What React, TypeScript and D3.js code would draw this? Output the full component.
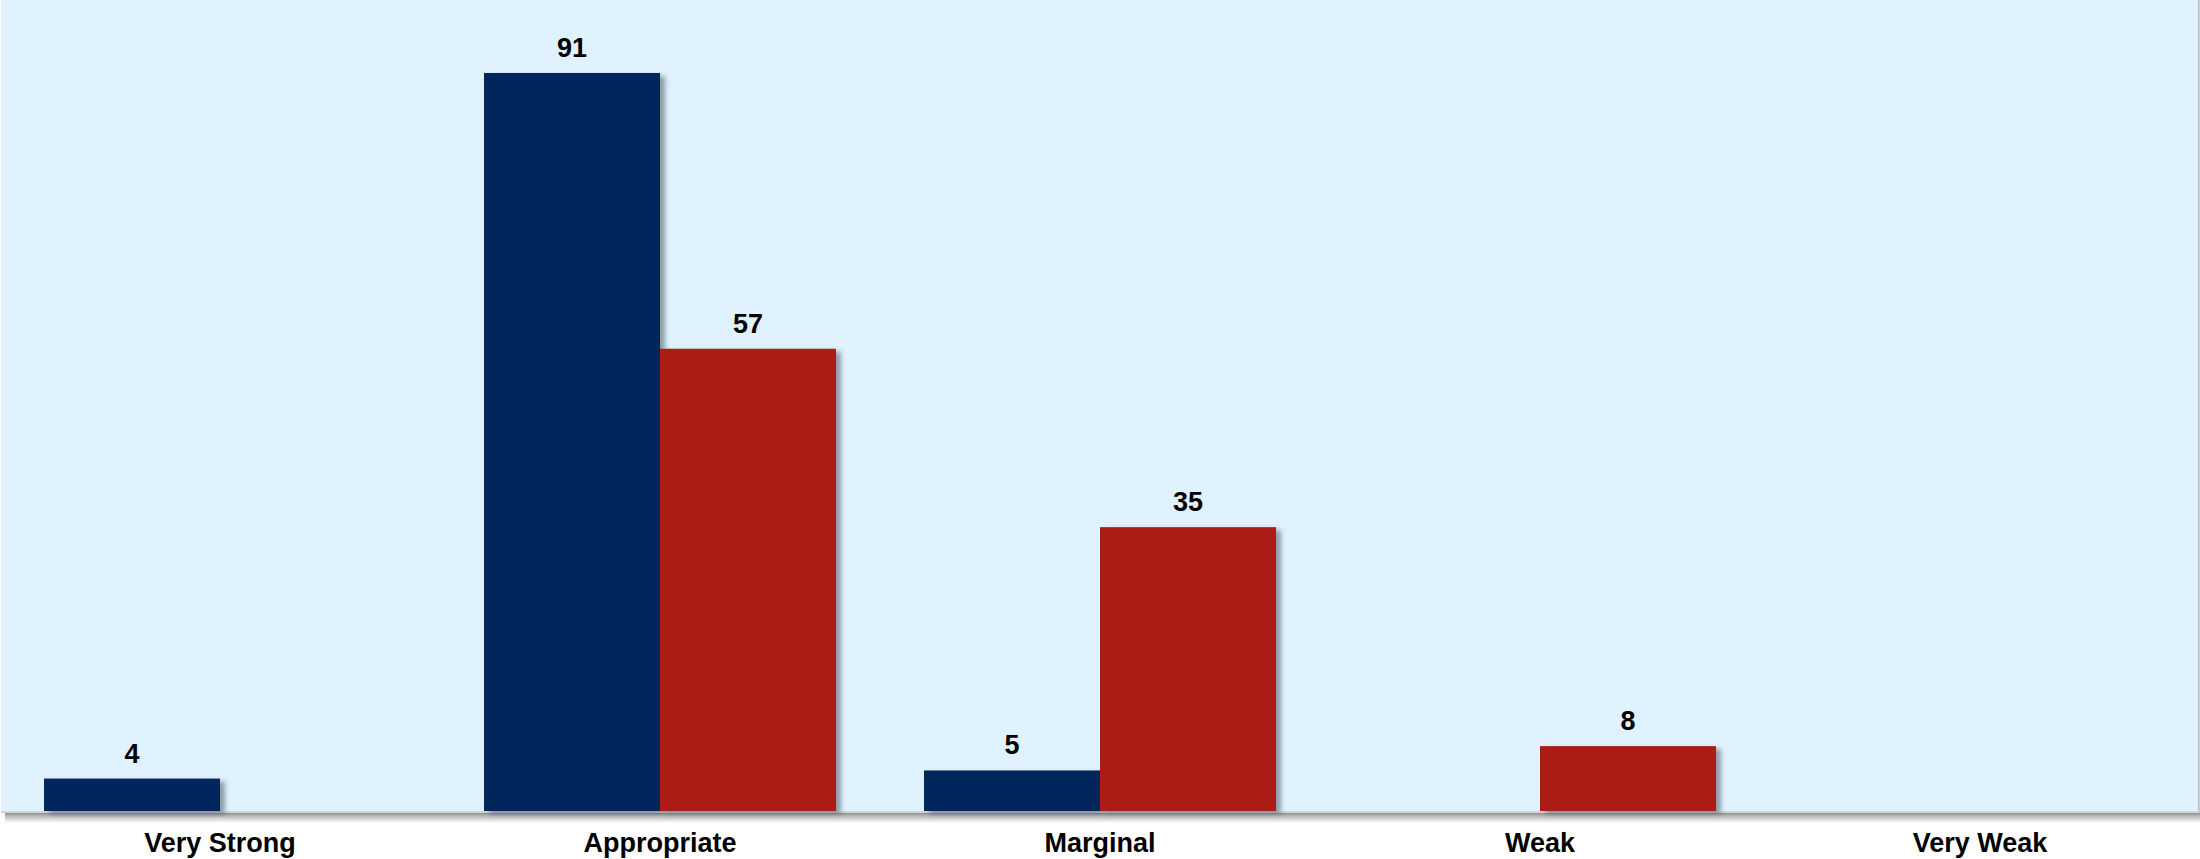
import React from "react";
import * as d3 from "d3";

const categories = ["Very Strong", "Appropriate", "Marginal", "Weak", "Very Weak"];
const seriesNames = ["Series A", "Series B"];
const seriesA: (number | null)[] = [4, 91, 5, null, null];
const seriesB: (number | null)[] = [null, 57, 35, 8, null];
const seriesColors = ["#02265B", "#AB1F17"];
const yMax = 100;

const W = 2200;
const H = 859;
const baseY = 811;

export default function App() {
  const x0 = d3.scaleBand<string>().domain(categories).range([0, W]).padding(0);
  const x1 = d3
    .scaleBand<string>()
    .domain(seriesNames)
    .range([0, x0.bandwidth()])
    .paddingInner(0)
    .paddingOuter(0.25);
  const y = d3.scaleLinear().domain([0, yMax]).range([baseY, 0]);
  const allSeries = [seriesA, seriesB];
  const font = "'Liberation Sans', Arial, Helvetica, sans-serif";

  return (
    <svg
      width={W}
      height={H}
      style={{ position: "absolute", left: 0, top: 0, background: "#fff" }}
    >
      <defs>
        <filter id="barShadow" x="-10%" y="-10%" width="130%" height="130%">
          <feDropShadow dx="5" dy="3" stdDeviation="2.5" floodColor="#4a5560" floodOpacity="0.55" />
        </filter>
        <linearGradient id="baseShadow" x1="0" y1="0" x2="0" y2="1">
          <stop offset="0%" stopColor="#8f8f8f" />
          <stop offset="40%" stopColor="#c4c4c4" />
          <stop offset="100%" stopColor="#ffffff" />
        </linearGradient>
        <linearGradient id="rightShadow" x1="0" y1="0" x2="1" y2="0">
          <stop offset="0%" stopColor="#c8cdd2" />
          <stop offset="100%" stopColor="#9aa0a6" />
        </linearGradient>
      </defs>
      <rect x={1} y={0} width={W - 3} height={baseY} fill="#E0F2FE" />
      <rect x={W - 2} y={0} width={1.5} height={baseY + 2} fill="url(#rightShadow)" />
      <rect x={5} y={baseY + 2} width={W - 5} height={10} fill="url(#baseShadow)" />
      <line x1={1} x2={W - 1} y1={baseY + 1} y2={baseY + 1} stroke="#d2d4d6" strokeWidth={2} />
      {allSeries.map((vals, si) =>
        vals.map((v, ci) =>
          v == null ? null : (
            <rect
              key={`b-${si}-${ci}`}
              x={(x0(categories[ci]) ?? 0) + (x1(seriesNames[si]) ?? 0)}
              y={y(v)}
              width={x1.bandwidth()}
              height={y(0) - y(v)}
              fill={seriesColors[si]}
              filter="url(#barShadow)"
            />
          )
        )
      )}
      {allSeries.map((vals, si) =>
        vals.map((v, ci) =>
          v == null ? null : (
            <text
              key={`l-${si}-${ci}`}
              x={(x0(categories[ci]) ?? 0) + (x1(seriesNames[si]) ?? 0) + x1.bandwidth() / 2}
              y={y(v) - 16}
              textAnchor="middle"
              fontFamily={font}
              fontWeight="bold"
              fontSize={27}
              fill="#000"
            >
              {v}
            </text>
          )
        )
      )}
      {categories.map((c) => (
        <text
          key={`c-${c}`}
          x={(x0(c) ?? 0) + x0.bandwidth() / 2}
          y={852}
          textAnchor="middle"
          fontFamily={font}
          fontWeight="bold"
          fontSize={27}
          fill="#000"
        >
          {c}
        </text>
      ))}
    </svg>
  );
}
